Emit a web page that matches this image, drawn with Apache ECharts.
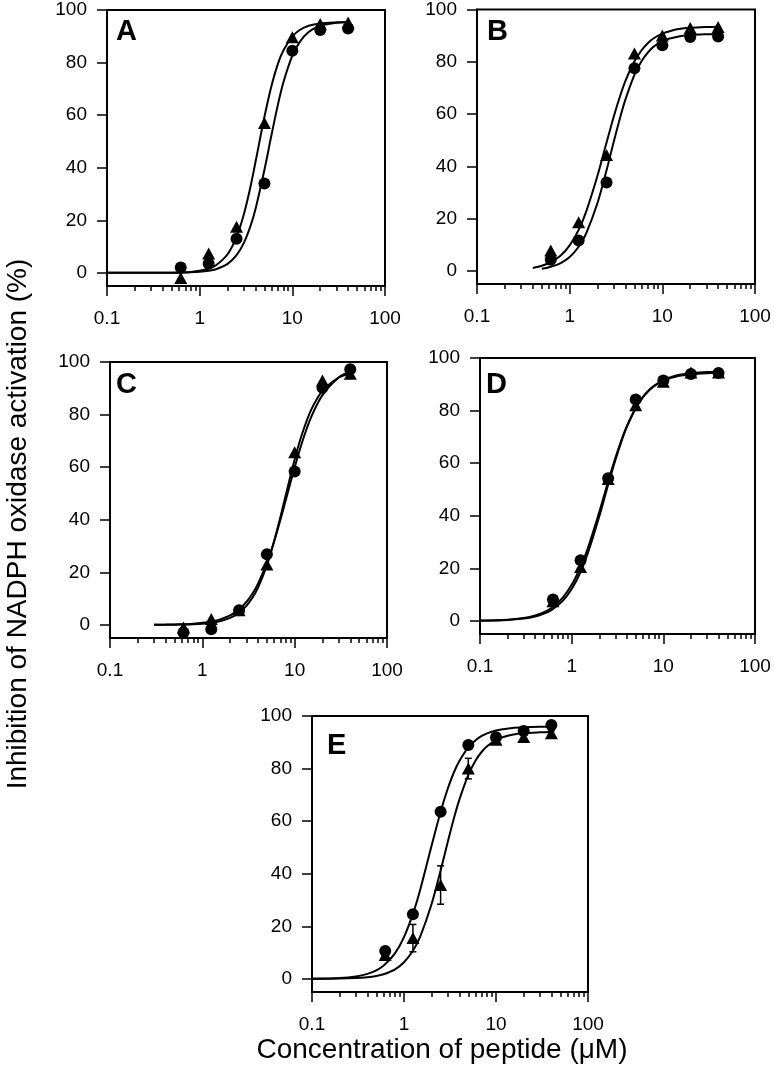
<!DOCTYPE html>
<html><head><meta charset="utf-8">
<script src="https://cdn.jsdelivr.net/npm/echarts@6/dist/echarts.min.js"></script>
<style>html,body{margin:0;padding:0;background:#fff}#c{width:774px;height:1071px}</style>
</head><body><div id="c"></div>
<script>
// ---- data ----
const conc = [0.625, 1.25, 2.5, 5, 10, 20, 40];

const A_circle   = [2, 3.5, 13, 34, 84.5, 92.4, 93];
const A_triangle = [-2, 7.4, 17.5, 57, 89.6, 94.7, 95.2];
const B_circle   = [4.3, 11.6, 33.8, 77.5, 86.3, 89.5, 89.7];
const B_triangle = [7.8, 18.6, 44.3, 83.2, 90.1, 92.9, 93.3];
const C_circle   = [-2.9, -1.7, 5.6, 26.9, 58.3, 90.2, 97.2];
const C_triangle = [-1, 2.2, 5.6, 23, 65.7, 93, 95.5];
const D_circle   = [8.1, 23.1, 54.3, 84.2, 91.4, 93.9, 94.3];
const D_triangle = [7.5, 20.5, 54, 82, 91, 94.5, 94.5];
const E_circle   = [10.6, 24.6, 63.6, 89, 91.9, 94.3, 96.6];
const E_triangle = [9.1, 15.5, 35.7, 80, 91, 92, 93.4];
const E_triangle_err = [1, 5.2, 7.3, 3.9, 1.5, 1, 1];

// fitted curves at these concentrations
const fitX = [0.1,0.2,0.3,0.4,0.5,0.6,0.8,1,1.25,1.5,2,2.5,3,3.5,4,5,6,7,8,10,12,15,20,30,40];
const A_circle_fit = [0,0,0.01,0.02,0.04,0.08,0.19,0.38,0.78,1.39,3.41,6.72,11.4,17.4,24.2,39.2,53.0,64.1,72.4,82.6,87.8,91.6,93.9,95.1,95.3];
const A_tri_fit    = [0,0,0.01,0.04,0.08,0.14,0.37,0.77,1.59,2.87,7.07,13.7,22.3,32.1,42.1,59.4,71.6,79.6,84.6,89.9,92.4,94.0,94.9,95.3,95.4];
const B_circle_fit = [null,null,null,null,0.86,1.40,2.98,5.30,9.23,14.2,26.1,38.5,49.6,58.6,65.6,75.0,80.4,83.6,85.7,87.9,88.9,89.7,90.25,90.55,90.65];
const B_tri_fit    = [null,null,null,1.15,1.96,3.04,5.93,9.8,15.7,22.5,36.5,49.1,59.2,66.9,72.7,80.2,84.5,87.2,88.9,90.75,91.7,92.5,93.0,93.3,93.4];
const C_circle_fit = [null,null,0.05,0.09,0.15,0.23,0.45,0.76,1.26,1.90,3.61,5.89,8.69,11.9,15.6,23.5,31.8,39.9,47.4,59.9,69.3,78.8,87.4,94.1,96.4];
const C_tri_fit    = [null,null,0.02,0.04,0.07,0.12,0.25,0.45,0.80,1.27,2.65,4.64,7.24,10.4,14.1,22.6,31.9,40.9,49.3,62.9,72.5,81.6,89.0,94.1,95.6];
const D_circle_fit = [0.10,0.46,1.12,2.08,3.35,4.92,8.86,13.7,20.5,27.6,41.4,53.0,62.0,68.9,74.1,81.0,85.2,87.8,89.5,91.6,92.7,93.6,94.2,94.7,94.8];
const D_tri_fit    = [0.07,0.34,0.87,1.66,2.75,4.11,7.65,12.1,18.6,25.7,39.7,51.8,61.2,68.4,73.8,80.9,85.1,87.7,89.4,91.4,92.4,93.25,93.85,94.24,94.37];
const E_circle_fit = [0.06,0.34,0.93,1.89,3.25,5.03,9.79,15.9,24.7,33.9,50.8,63.6,72.5,78.7,82.9,88.1,90.8,92.4,93.4,94.5,95.0,95.45,95.7,95.9,95.95];
const E_tri_fit    = [0.02,0.10,0.29,0.62,1.10,1.76,3.64,6.32,10.7,16.1,28.6,41.2,52.3,61.3,68.2,77.6,83.1,86.4,88.5,90.8,92.0,92.9,93.5,93.8,93.9];

const yTicks = [0, 20, 40, 60, 80, 100];
const xMinorTicks = [0.2,0.3,0.4,0.5,0.6,0.7,0.8,0.9,2,3,4,5,6,7,8,9,20,30,40,50,60,70,80,90];
const panelLetters = ['A', 'B', 'C', 'D', 'E'];
const yTitle = 'Inhibition of NADPH oxidase activation (%)';
const xTitle = 'Concentration of peptide (\u03bcM)';

// ---- layout ----
const boxes = [
  {left:107, top:10,  width:278, height:276},
  {left:477, top:8,   width:278, height:276},
  {left:110, top:362, width:277, height:276},
  {left:480, top:358, width:275, height:276},
  {left:312, top:716, width:276, height:276}
];
const letterPos = [[116,32],[487,32],[116,385],[486,385],[327,746]];
const FONT = '"Liberation Sans", Arial, sans-serif';

const panels = [
  {c:A_circle, t:A_triangle, cf:A_circle_fit, tf:A_tri_fit},
  {c:B_circle, t:B_triangle, cf:B_circle_fit, tf:B_tri_fit},
  {c:C_circle, t:C_triangle, cf:C_circle_fit, tf:C_tri_fit},
  {c:D_circle, t:D_triangle, cf:D_circle_fit, tf:D_tri_fit},
  {c:E_circle, t:E_triangle, cf:E_circle_fit, tf:E_tri_fit, terr:E_triangle_err}
];

const grid = [], xAxis = [], yAxis = [], series = [], graphic = [];
panels.forEach((p, i) => {
  const b = boxes[i];
  grid.push({left:b.left, top:b.top, width:b.width, height:b.height, show:true,
             borderColor:'#000', borderWidth:2, backgroundColor:'transparent'});
  // major axis
  xAxis.push({gridIndex:i, type:'log', logBase:10, min:0.1, max:100, position:'bottom',
    axisLine:{show:true, onZero:false, lineStyle:{color:'#000', width:2}},
    axisTick:{show:true, inside:false, length:10, lineStyle:{color:'#000', width:1.5}},
    axisLabel:{show:true, fontSize:19, color:'#000', margin:23, fontFamily:FONT},
    splitLine:{show:false}, minorTick:{show:false}, minorSplitLine:{show:false}});
  // minor ticks
  xAxis.push({gridIndex:i, type:'log', logBase:10, min:0.1, max:100, position:'bottom',
    axisLine:{show:false, onZero:false},
    axisTick:{show:true, inside:false, length:5, customValues:xMinorTicks, lineStyle:{color:'#000', width:1.5}},
    axisLabel:{show:false}, splitLine:{show:false}});
  yAxis.push({gridIndex:i, type:'value', min:-5, max:100,
    axisLine:{show:true, onZero:false, lineStyle:{color:'#000', width:2}},
    axisTick:{show:true, length:10, customValues:yTicks, lineStyle:{color:'#000', width:1.5}},
    axisLabel:{show:true, customValues:yTicks, fontSize:19, color:'#000', margin:20, fontFamily:FONT},
    splitLine:{show:false}});
  const xi = i * 2;
  const mkFit = arr => fitX.map((x, j) => [x, arr[j]]);
  const mkPts = arr => conc.map((x, j) => [x, arr[j]]);
  [p.cf, p.tf].forEach(f => series.push({type:'line', xAxisIndex:xi, yAxisIndex:i, data:mkFit(f),
    showSymbol:false, symbol:'none', smooth:0.3, connectNulls:false,
    lineStyle:{color:'#000', width:2}, z:2, silent:true}));
  if (p.terr) {
    series.push({type:'custom', xAxisIndex:xi, yAxisIndex:i, z:3,
      data: conc.map((x, j) => [x, p.t[j] - p.terr[j], p.t[j] + p.terr[j]]),
      encode:{x:0, y:[1,2]},
      renderItem:(params, api) => {
        const x = api.value(0);
        const lo = api.coord([x, api.value(1)]);
        const hi = api.coord([x, api.value(2)]);
        const w = 3.5;
        const st = {stroke:'#000', lineWidth:1.5};
        return {type:'group', children:[
          {type:'line', shape:{x1:lo[0], y1:lo[1], x2:hi[0], y2:hi[1]}, style:st},
          {type:'line', shape:{x1:lo[0]-w, y1:lo[1], x2:lo[0]+w, y2:lo[1]}, style:st},
          {type:'line', shape:{x1:hi[0]-w, y1:hi[1], x2:hi[0]+w, y2:hi[1]}, style:st}
        ]};
      }});
  }
  series.push({type:'scatter', xAxisIndex:xi, yAxisIndex:i, data:mkPts(p.t),
    symbol:'triangle', symbolSize:[13,12], itemStyle:{color:'#000', opacity:1}, z:4});
  series.push({type:'scatter', xAxisIndex:xi, yAxisIndex:i, data:mkPts(p.c),
    symbol:'circle', symbolSize:12, itemStyle:{color:'#000', opacity:1}, z:5});
  graphic.push({type:'text', x:letterPos[i][0], y:letterPos[i][1],
    style:{text:panelLetters[i], font:'bold 29px ' + FONT, fill:'#000', align:'left', verticalAlign:'middle'}});
});

graphic.push({type:'text', x:18, y:524, rotation:Math.PI/2,
  style:{text:yTitle, font:'28px ' + FONT, fill:'#000', align:'center', verticalAlign:'middle'}});
graphic.push({type:'text', x:442, y:1050,
  style:{text:xTitle, font:'28px ' + FONT, fill:'#000', align:'center', verticalAlign:'middle'}});

const chart = echarts.init(document.getElementById('c'), null, {renderer:'canvas'});
chart.setOption({animation:false, backgroundColor:'#fff', grid, xAxis, yAxis, series, graphic});
</script></body></html>
